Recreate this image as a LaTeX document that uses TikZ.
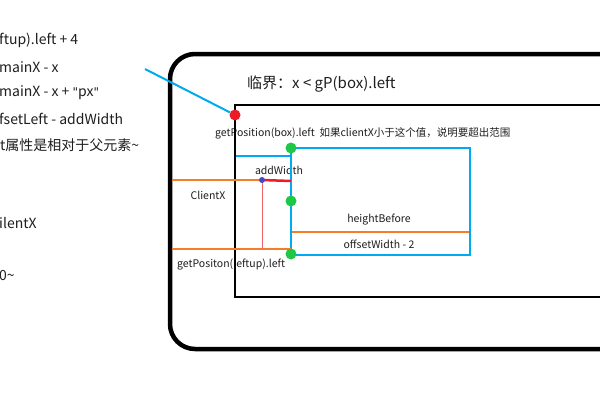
\documentclass[tikz,border=0pt]{standalone}
\usepackage{fontspec}
\setmainfont{Noto Sans CJK SC}
\newfontfamily\latinq{DejaVu Sans}
\definecolor{cblue}{RGB}{0,170,240}
\definecolor{corange}{RGB}{245,125,40}
\definecolor{cred}{RGB}{235,28,36}
\definecolor{cgreen}{RGB}{30,200,70}
\definecolor{cdot}{RGB}{70,70,200}
\definecolor{ctext}{RGB}{30,30,30}
\newcommand{\sq}{{\latinq\fontsize{12}{14}\selectfont\symbol{34}}}
\begin{document}
\begin{tikzpicture}[x=1pt,y=-1pt,
  big/.style={inner sep=0pt, anchor=west, text=ctext, font=\fontsize{14}{16}\selectfont},
  lbl/.style={inner sep=0pt, text=ctext, font=\fontsize{10.5}{12}\selectfont},
  dot/.style={circle, inner sep=0pt, minimum size=11pt},
  frame/.style={line width=4.5pt, rounded corners=25pt},
  inner/.style={line width=2pt},
  bl/.style={draw=cblue, line width=2.5pt},
  orl/.style={draw=corange, line width=2.5pt}]
\useasboundingbox (0,0) rectangle (600,400);
\clip (0,0) rectangle (600,400);
\fill[white] (0,0) rectangle (600,400);
% left texts (cut off at the edge)
\node[big] (t1) at (-1,40) {ftup).left + 4};
\node[big] (t2) at (-1,67) {mainX - x};
\node[big] (t3) at (-1,93) {mainX - x + \sq px\sq};
\node[big] (t4) at (-1,119) {fsetLeft - addWidth};
\node[big] (t5) at (0,145) {t属性是相对于父元素\textasciitilde};
\node[big] (t6) at (-1,223) {ilentX};
\node[big] (t7) at (-1,276) {0\textasciitilde};
% labels
\node[big, font=\fontsize{15}{17}\selectfont] (crit) at (247,84) {临界：x < gP(box).left};
\node[lbl, anchor=west] (gpb) at (215,133) {getPosition(box).left\ \ 如果clientX小于这个值，说明要超出范围};
\node[lbl] (aw) at (279,170) {addWidth};
\node[lbl] (cx) at (208,195) {ClientX};
\node[lbl] (hb) at (379,220) {heightBefore};
\node[lbl] (ow) at (379,244) {offsetWidth - 2};
\node[lbl, anchor=west] (gpl) at (177,265) {getPositon(leftup).left};
% frames
\draw[frame] (170,54) rectangle (660,349);
\draw[inner] (235,105) rectangle (660,297);
% blue box
\draw[bl] (291,148) rectangle (470,255);
\coordinate (bxl) at (236,156);
\coordinate (bxr) at (291,156);
\draw[bl] (bxl) -- (bxr);
% orange lines
\coordinate (o1a) at (172,180);
\coordinate (o1b) at (262,180);
\coordinate (o1c) at (291,181);
\coordinate (o2a) at (172,249);
\coordinate (o2b) at (291,249);
\coordinate (o3a) at (292,232);
\coordinate (o3b) at (469,232);
\coordinate (vb) at (262,249);
\draw[orl] (o1a) -- (o1b);
\draw[orl] (o2a) -- (o2b);
\draw[orl] (o3a) -- (o3b);
\draw[cred, line width=2.5pt] (o1b) -- (o1c);
\draw[cred!70, line width=0.7pt] (o1b) -- (vb);
% dots
\node[dot, fill=cgreen] (g1) at (291,148) {};
\node[dot, fill=cgreen] (g2) at (291,201) {};
\node[dot, fill=cgreen] (g3) at (291,254) {};
\node[circle, inner sep=0pt, minimum size=6pt, fill=cdot] (pd) at (262,180) {};
\node[dot, fill=cred] (rd) at (235,115) {};
\coordinate (bs) at (145,69);
\draw[cblue, line width=2pt] (bs) -- (rd);
\end{tikzpicture}
\end{document}
